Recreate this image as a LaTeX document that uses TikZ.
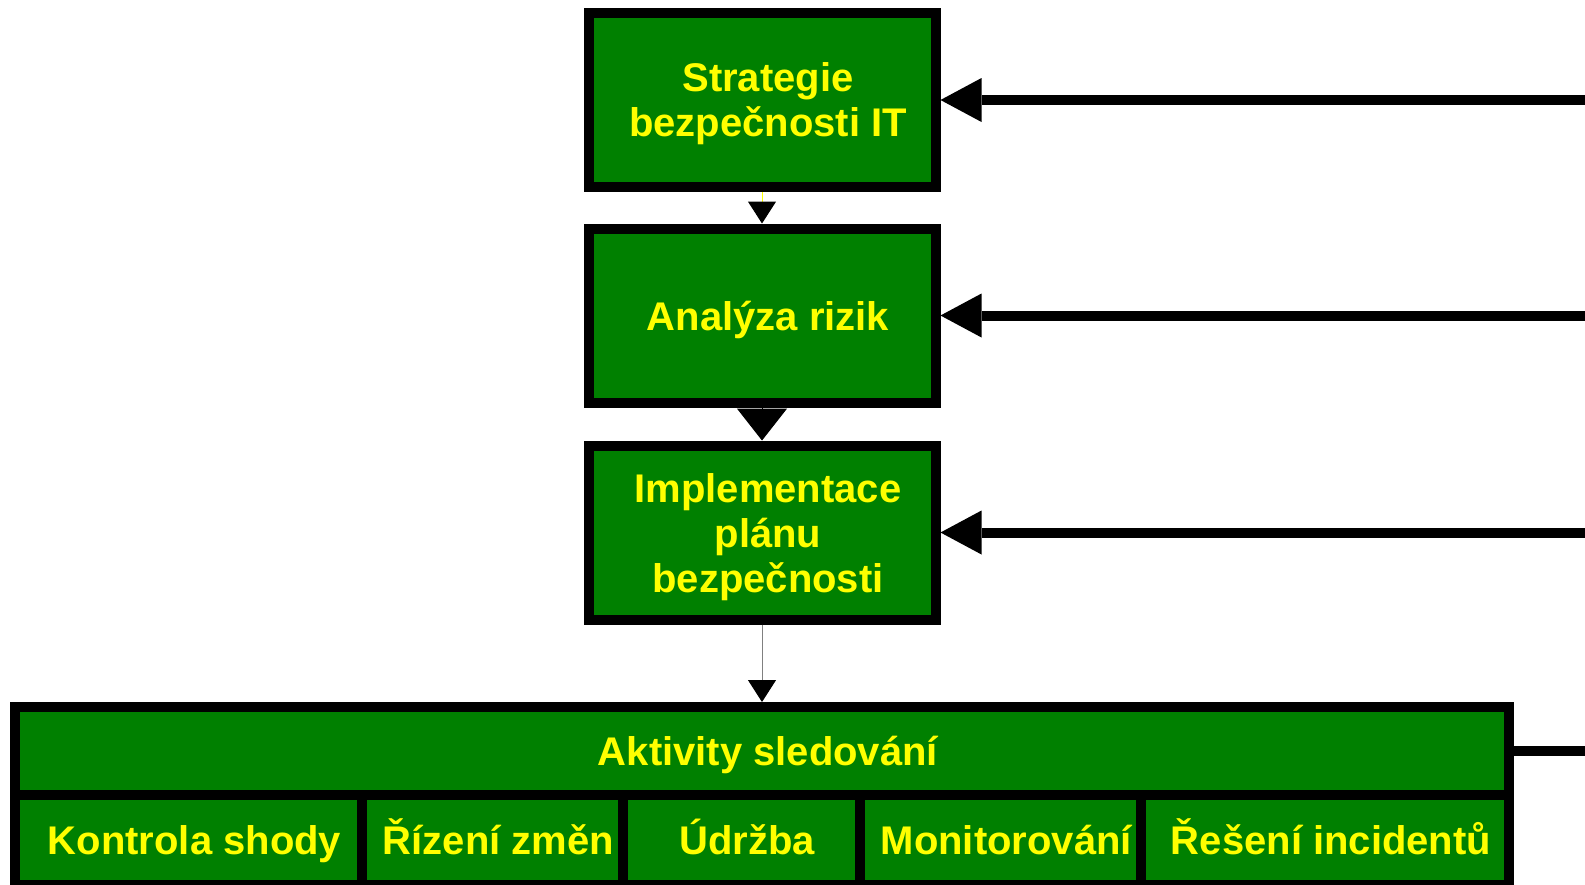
\documentclass[tikz,border=0pt]{standalone}
\usepackage{fontspec}
\setmainfont{Liberation Sans}
\usetikzlibrary{arrows.meta}
\definecolor{zelena}{HTML}{008000}
\definecolor{zluta}{HTML}{FFFF00}
\newcommand{\posl}[1]{\raisebox{0pt}[\height][0pt]{#1}}
\tikzset{
  blok/.style={draw=black,line width=5pt,fill=zelena,text=zluta,inner sep=0pt,align=center,
    font=\fontsize{20pt}{22.5pt}\selectfont\bfseries,execute at begin node=\hspace*{6pt}},
  radek/.style={text height=14.5pt,text depth=0pt},
  hlavni/.style={blok,minimum width=173.5pt,minimum height=87pt},
  bunka/.style={blok,radek,minimum height=45pt},
  sipka/.style={line width=5pt,-{Triangle[length=20.5pt,width=22pt,line width=0pt]}},
}
\begin{document}
\begin{tikzpicture}[x=0.5pt,y=-0.5pt]
\useasboundingbox (0,0) rectangle (1585,884);
\node[hlavni] (s) at (762,100) {Strategie\\\posl{bezpečnosti IT}};
\node[hlavni,radek] (a) at (762,315.5) {Analýza rizik};
\node[hlavni] (i) at (762,532.5) {Implementace\\plánu\\\posl{bezpečnosti}};
\node[blok,radek,minimum width=747pt,minimum height=43.75pt] (akt) at (762,750.75) {Aktivity sledování};
\node[bunka,minimum width=173.5pt] (k1) at (188.5,839.5) {Kontrola shody};
\node[bunka,minimum width=130.5pt] (k2) at (492.5,839.5) {Řízení změn};
\node[bunka,minimum width=118.25pt] (k3) at (741.25,839.5) {Údržba};
\node[bunka,minimum width=140.75pt] (k4) at (1000.25,839.5) {Monitorování};
\node[bunka,minimum width=184pt] (k5) at (1325,839.5) {Řešení incidentů};
\coordinate (p1) at (1585,100);
\coordinate (p2) at (1585,315.5);
\coordinate (p3) at (1585,532.5);
\coordinate (p4) at (1585,750.75);
\draw [zluta,line width=0.5pt,-{Triangle[length=11pt,width=14pt,color=black]}](s)--(a);
\draw [line width=0.5pt,-{Triangle[length=16pt,width=25pt]}](a)--(i);
\draw [gray,line width=0.5pt,-{Triangle[length=11pt,width=14pt,color=black]}](i)--(akt);
\draw [sipka](p1)--(s);
\draw [sipka](p2)--(a);
\draw [sipka](p3)--(i);
\draw [line width=5pt](akt)--(p4);
\end{tikzpicture}
\end{document}
